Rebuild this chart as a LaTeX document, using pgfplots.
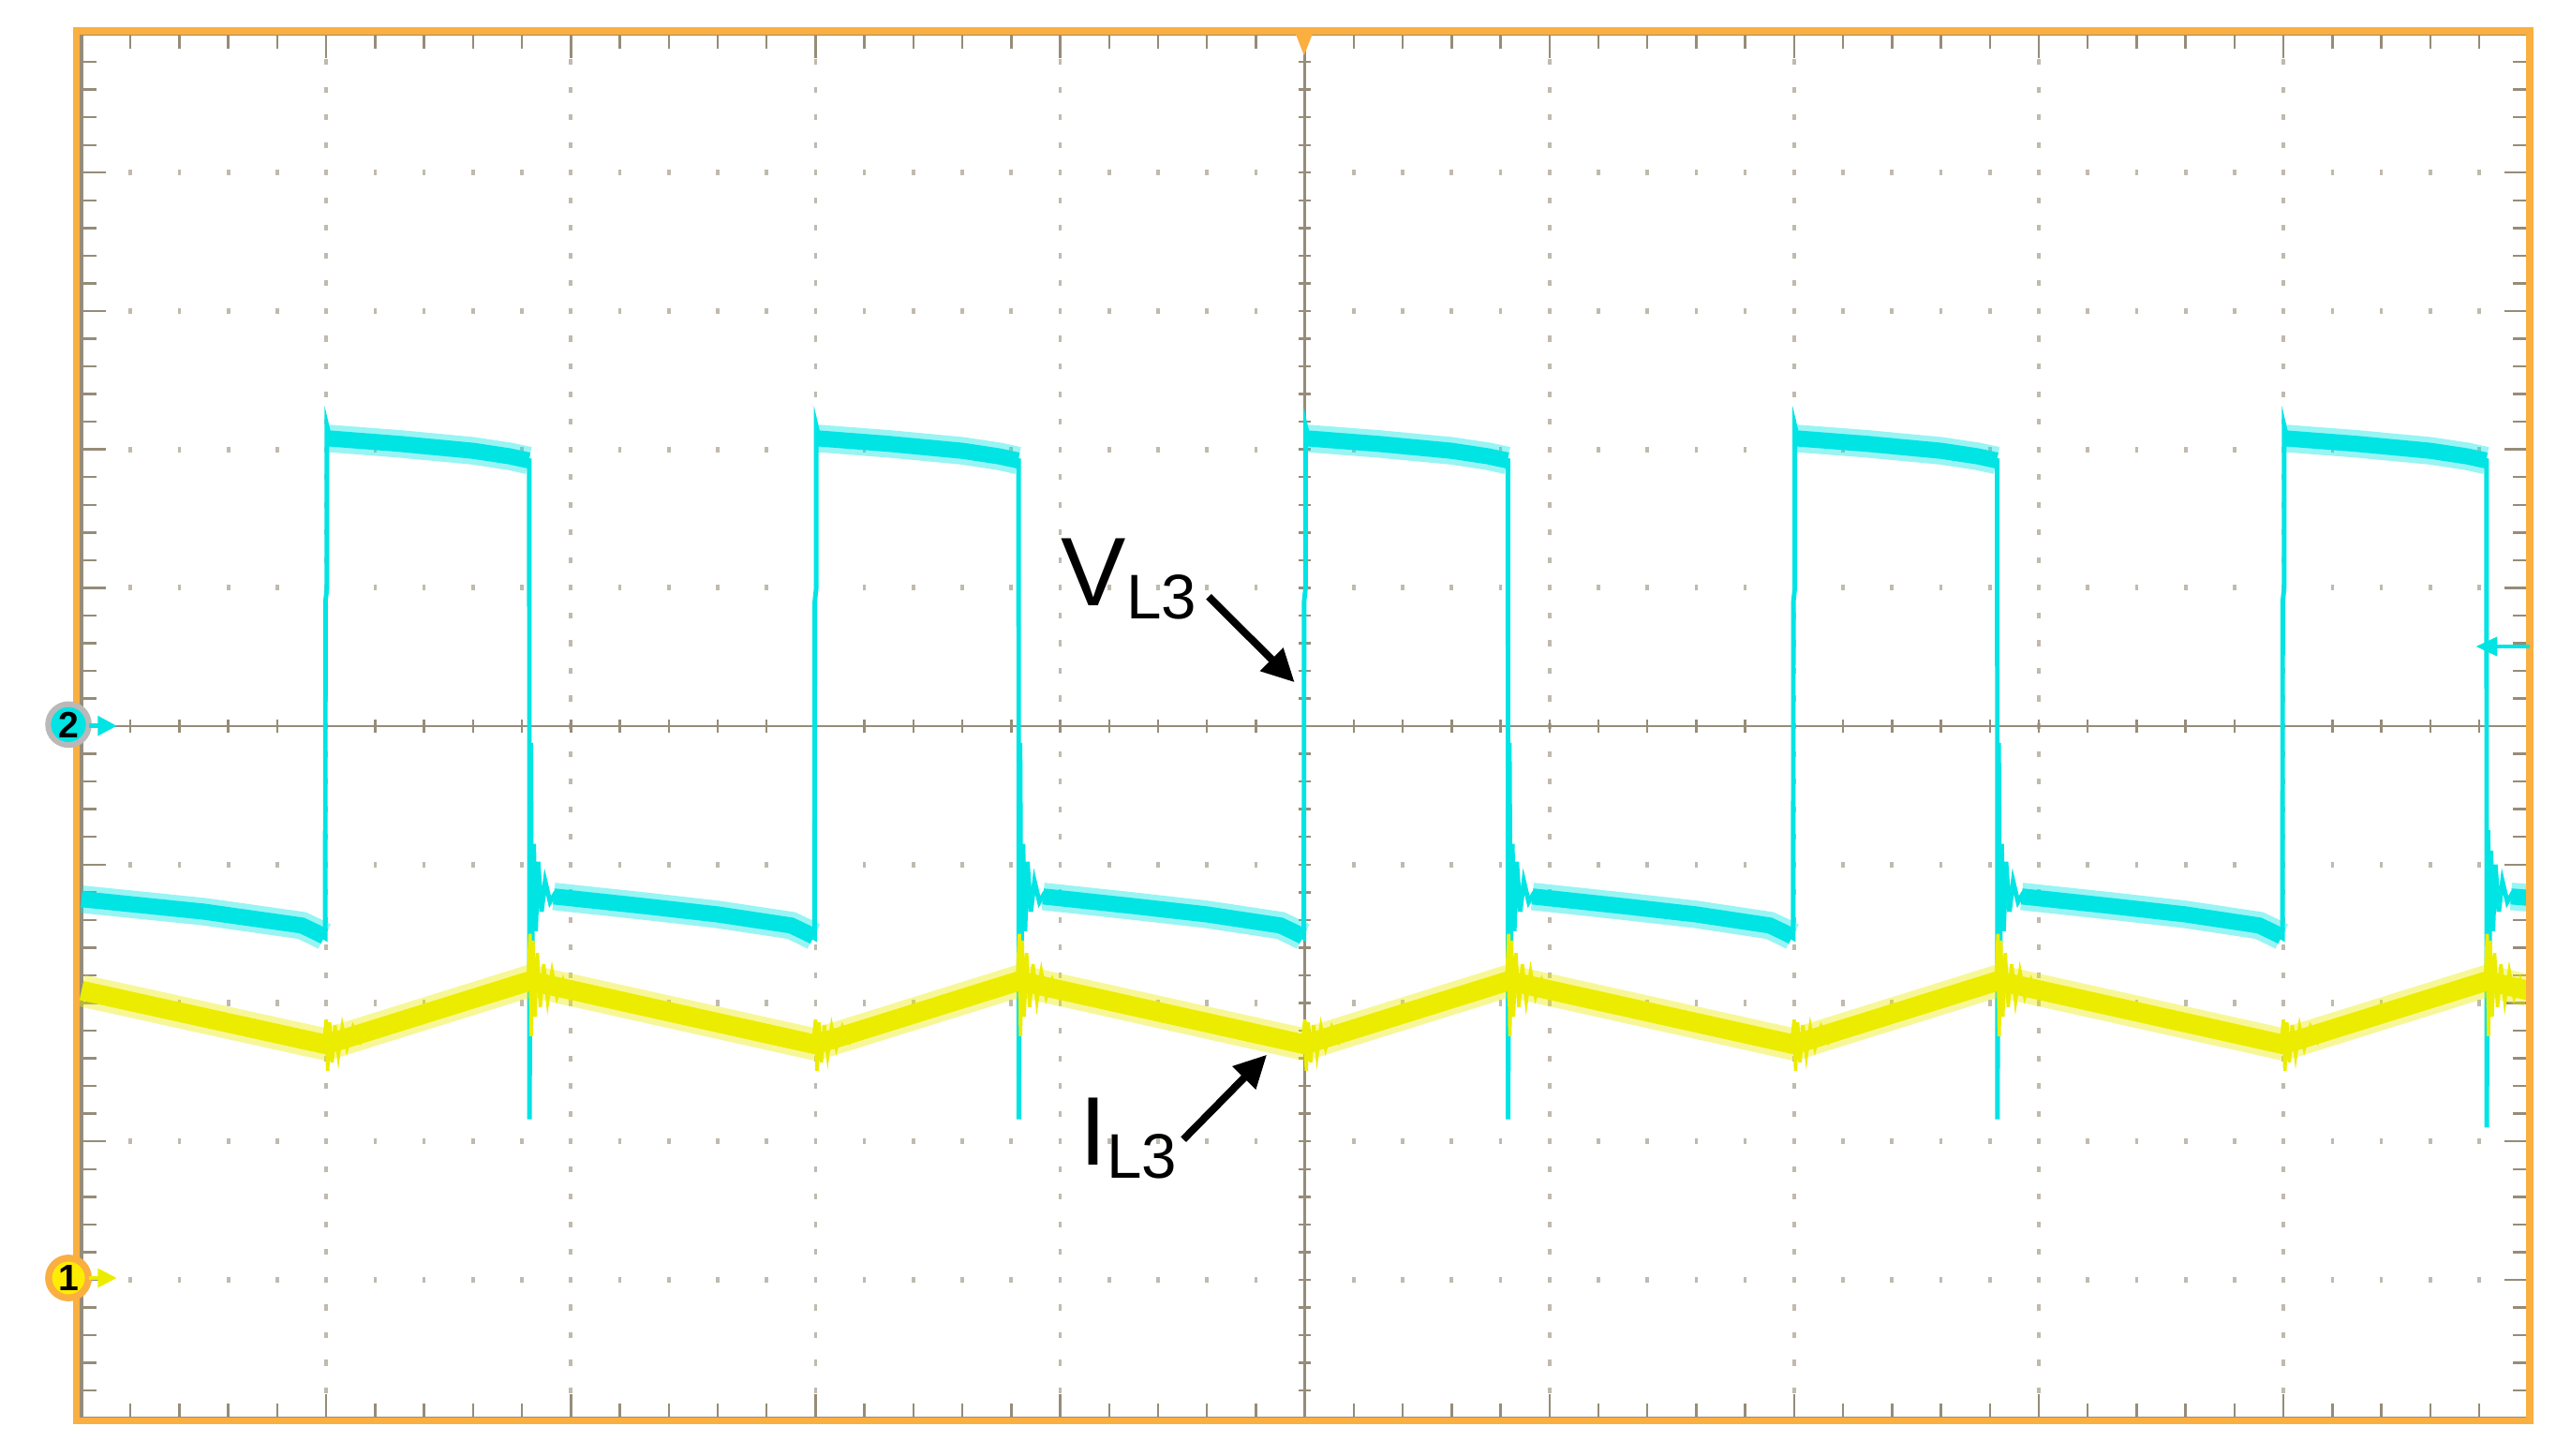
\documentclass[border=0pt]{standalone}
\usepackage{fontspec}
\setmainfont{Liberation Sans}
\usepackage{pgfplots}
\pgfplotsset{compat=1.18}
\usetikzlibrary{arrows.meta}

\definecolor{frameorange}{RGB}{250,175,64}
\definecolor{grat}{RGB}{150,140,120}
\definecolor{ch1}{RGB}{236,236,0}
\definecolor{ch2}{RGB}{0,228,228}

\begin{document}
\begin{tikzpicture}
% graticule, one unit = one division
\begin{scope}[shift={(0,4.2425cm)},x=1.5cm,y=0.8485cm,line width=0.4pt]
  \foreach \i in {1,2,3,4,6,7,8,9} {
    \foreach \j in {-24,...,24} {
      \fill[grat!60] ([xshift=-0.3pt,yshift=-0.5pt]\i,\j/5) rectangle ++(0.6pt,1pt);
    }
  }
  \foreach \j in {-4,-3,-2,-1,1,2,3,4} {
    \foreach \i in {1,...,49} {
      \fill[grat!60] ([xshift=-0.3pt,yshift=-0.5pt]\i/5,\j) rectangle ++(0.6pt,1pt);
    }
  }
  \draw[grat] (0,0) -- (10,0);
  \draw[grat] (5,-5) -- (5,5);
  \foreach \k in {1,...,49} {
    \draw[grat] ([yshift=-1.1pt]\k/5,0) -- ([yshift=1.1pt]\k/5,0);
    \draw[grat] ([xshift=-1.1pt]5,\k/5-5) -- ([xshift=1.1pt]5,\k/5-5);
    \pgfmathsetmacro\L{mod(\k,5)==0 ? 4.2 : 2.6}
    \draw[grat] (\k/5,5) -- ++(0,-\L pt);
    \draw[grat] (\k/5,-5) -- ++(0,\L pt);
    \draw[grat] (0,\k/5-5) -- ++(\L pt,0);
    \draw[grat] (10,\k/5-5) -- ++(-\L pt,0);
  }
  \draw[grat,line width=0.6pt] (0,-5) rectangle (10,5);
\end{scope}

\begin{axis}[
  at={(0,0)}, anchor=south west,
  scale only axis, width=15cm, height=8.485cm,
  xmin=0, xmax=10, ymin=-5, ymax=5,
  hide axis, clip=false,
  unbounded coords=jump,
]
% channel 2 (V_L3): noise band
\addplot[ch2, line width=4.8pt, opacity=0.4, line cap=butt] coordinates {
  (0,-1.25)(0.5,-1.34)(0.9,-1.44)(0.96,-1.49)(0.993,-1.52)(1,nan)
  (1.006,2.08)(1.3,2.04)(1.6,1.99)(1.75,1.95)(1.828,1.92)(1.83,nan)
  (1.93,-1.23)(2.3,-1.3)(2.6,-1.36)(2.9,-1.44)(2.96,-1.49)(2.993,-1.52)(3,nan)
  (3.006,2.08)(3.3,2.04)(3.6,1.99)(3.75,1.95)(3.828,1.92)(3.83,nan)
  (3.93,-1.23)(4.3,-1.3)(4.6,-1.36)(4.9,-1.44)(4.96,-1.49)(4.993,-1.52)(5,nan)
  (5.006,2.08)(5.3,2.04)(5.6,1.99)(5.75,1.95)(5.828,1.92)(5.83,nan)
  (5.93,-1.23)(6.3,-1.3)(6.6,-1.36)(6.9,-1.44)(6.96,-1.49)(6.993,-1.52)(7,nan)
  (7.006,2.08)(7.3,2.04)(7.6,1.99)(7.75,1.95)(7.828,1.92)(7.83,nan)
  (7.93,-1.23)(8.3,-1.3)(8.6,-1.36)(8.9,-1.44)(8.96,-1.49)(8.993,-1.52)(9,nan)
  (9.006,2.08)(9.3,2.04)(9.6,1.99)(9.75,1.95)(9.828,1.92)(9.83,nan)
  (9.93,-1.23)(10,-1.24)
};
\addplot[ch2, line width=2.8pt, line cap=butt] coordinates {
  (0,-1.25)(0.5,-1.34)(0.9,-1.44)(0.96,-1.49)(0.993,-1.52)(1,nan)
  (1.006,2.08)(1.3,2.04)(1.6,1.99)(1.75,1.95)(1.828,1.92)(1.83,nan)
  (1.93,-1.23)(2.3,-1.3)(2.6,-1.36)(2.9,-1.44)(2.96,-1.49)(2.993,-1.52)(3,nan)
  (3.006,2.08)(3.3,2.04)(3.6,1.99)(3.75,1.95)(3.828,1.92)(3.83,nan)
  (3.93,-1.23)(4.3,-1.3)(4.6,-1.36)(4.9,-1.44)(4.96,-1.49)(4.993,-1.52)(5,nan)
  (5.006,2.08)(5.3,2.04)(5.6,1.99)(5.75,1.95)(5.828,1.92)(5.83,nan)
  (5.93,-1.23)(6.3,-1.3)(6.6,-1.36)(6.9,-1.44)(6.96,-1.49)(6.993,-1.52)(7,nan)
  (7.006,2.08)(7.3,2.04)(7.6,1.99)(7.75,1.95)(7.828,1.92)(7.83,nan)
  (7.93,-1.23)(8.3,-1.3)(8.6,-1.36)(8.9,-1.44)(8.96,-1.49)(8.993,-1.52)(9,nan)
  (9.006,2.08)(9.3,2.04)(9.6,1.99)(9.75,1.95)(9.828,1.92)(9.83,nan)
  (9.93,-1.23)(10,-1.24)
};
% channel 2: edges and ringing
\addplot[ch2, line width=0.8pt] coordinates {
  (0,-1.25)(0.5,-1.34)(0.9,-1.44)(0.96,-1.49)(0.996,-1.53)
  (0.997,0.9)(1.003,1.0)(1.003,2.17)(1.015,2.08)(1.3,2.04)(1.6,1.99)(1.75,1.95)(1.83,1.92)
  (1.831,-2.84)(1.836,-0.12)(1.841,-1.72)(1.848,-0.85)(1.856,-1.48)(1.866,-0.98)(1.88,-1.34)(1.895,-1.12)(1.915,-1.27)(1.935,-1.21)
  (2.3,-1.3)(2.6,-1.36)(2.9,-1.44)(2.96,-1.49)(2.996,-1.53)
  (2.997,0.9)(3.003,1.0)(3.003,2.17)(3.015,2.08)(3.3,2.04)(3.6,1.99)(3.75,1.95)(3.83,1.92)
  (3.831,-2.84)(3.836,-0.12)(3.841,-1.72)(3.848,-0.85)(3.856,-1.48)(3.866,-0.98)(3.88,-1.34)(3.895,-1.12)(3.915,-1.27)(3.935,-1.21)
  (4.3,-1.3)(4.6,-1.36)(4.9,-1.44)(4.96,-1.49)(4.996,-1.53)
  (4.997,0.9)(5.003,1.0)(5.003,2.17)(5.015,2.08)(5.3,2.04)(5.6,1.99)(5.75,1.95)(5.83,1.92)
  (5.831,-2.84)(5.836,-0.12)(5.841,-1.72)(5.848,-0.85)(5.856,-1.48)(5.866,-0.98)(5.88,-1.34)(5.895,-1.12)(5.915,-1.27)(5.935,-1.21)
  (6.3,-1.3)(6.6,-1.36)(6.9,-1.44)(6.96,-1.49)(6.996,-1.53)
  (6.997,0.9)(7.003,1.0)(7.003,2.17)(7.015,2.08)(7.3,2.04)(7.6,1.99)(7.75,1.95)(7.83,1.92)
  (7.831,-2.84)(7.836,-0.12)(7.841,-1.72)(7.848,-0.85)(7.856,-1.48)(7.866,-0.98)(7.88,-1.34)(7.895,-1.12)(7.915,-1.27)(7.935,-1.21)
  (8.3,-1.3)(8.6,-1.36)(8.9,-1.44)(8.96,-1.49)(8.996,-1.53)
  (8.997,0.9)(9.003,1.0)(9.003,2.17)(9.015,2.08)(9.3,2.04)(9.6,1.99)(9.75,1.95)(9.83,1.92)
  (9.831,-2.9)(9.836,-0.75)(9.841,-1.72)(9.848,-0.9)(9.856,-1.48)(9.866,-1.0)(9.88,-1.34)(9.895,-1.12)(9.915,-1.27)(9.935,-1.21)(10,-1.24)
};
% channel 1 (I_L3): triangle band
\addplot[ch1, line width=5.6pt, opacity=0.4, line join=round] coordinates {
  (0,-1.91)(1,-2.30)(1.833,-1.84)(3,-2.30)(3.833,-1.84)(5,-2.30)
  (5.833,-1.84)(7,-2.30)(7.833,-1.84)(9,-2.30)(9.833,-1.84)(10,-1.91)
};
\addplot[ch1, line width=3.4pt, line join=round] coordinates {
  (0,-1.91)(1,-2.30)(1.833,-1.84)(3,-2.30)(3.833,-1.84)(5,-2.30)
  (5.833,-1.84)(7,-2.30)(7.833,-1.84)(9,-2.30)(9.833,-1.84)(10,-1.91)
};
% channel 1: ringing at the switching edges
\addplot[ch1, line width=0.6pt] coordinates {
  (0.99,-2.29)(1,-2.12)(1.006,-2.49)(1.014,-2.14)(1.024,-2.43)(1.036,-2.16)(1.05,-2.38)(1.066,-2.17)(1.085,-2.33)(1.11,-2.17)(1.14,-2.28)(1.17,-2.16)(1.2,nan)
  (1.825,-1.84)(1.833,-1.5)(1.838,-2.24)(1.845,-1.55)(1.853,-2.1)(1.863,-1.64)(1.875,-2.03)(1.889,-1.72)(1.905,-1.99)(1.923,-1.77)(1.943,-1.96)(1.968,-1.83)(1.998,-1.96)(2.033,-1.88)(2.1,nan)
  (2.99,-2.29)(3,-2.12)(3.006,-2.49)(3.014,-2.14)(3.024,-2.43)(3.036,-2.16)(3.05,-2.38)(3.066,-2.17)(3.085,-2.33)(3.11,-2.17)(3.14,-2.28)(3.17,-2.16)(3.2,nan)
  (3.825,-1.84)(3.833,-1.5)(3.838,-2.24)(3.845,-1.55)(3.853,-2.1)(3.863,-1.64)(3.875,-2.03)(3.889,-1.72)(3.905,-1.99)(3.923,-1.77)(3.943,-1.96)(3.968,-1.83)(3.998,-1.96)(4.033,-1.88)(4.1,nan)
  (4.99,-2.29)(5,-2.12)(5.006,-2.49)(5.014,-2.14)(5.024,-2.43)(5.036,-2.16)(5.05,-2.38)(5.066,-2.17)(5.085,-2.33)(5.11,-2.17)(5.14,-2.28)(5.17,-2.16)(5.2,nan)
  (5.825,-1.84)(5.833,-1.5)(5.838,-2.24)(5.845,-1.55)(5.853,-2.1)(5.863,-1.64)(5.875,-2.03)(5.889,-1.72)(5.905,-1.99)(5.923,-1.77)(5.943,-1.96)(5.968,-1.83)(5.998,-1.96)(6.033,-1.88)(6.1,nan)
  (6.99,-2.29)(7,-2.12)(7.006,-2.49)(7.014,-2.14)(7.024,-2.43)(7.036,-2.16)(7.05,-2.38)(7.066,-2.17)(7.085,-2.33)(7.11,-2.17)(7.14,-2.28)(7.17,-2.16)(7.2,nan)
  (7.825,-1.84)(7.833,-1.5)(7.838,-2.24)(7.845,-1.55)(7.853,-2.1)(7.863,-1.64)(7.875,-2.03)(7.889,-1.72)(7.905,-1.99)(7.923,-1.77)(7.943,-1.96)(7.968,-1.83)(7.998,-1.96)(8.033,-1.88)(8.1,nan)
  (8.99,-2.29)(9,-2.12)(9.006,-2.49)(9.014,-2.14)(9.024,-2.43)(9.036,-2.16)(9.05,-2.38)(9.066,-2.17)(9.085,-2.33)(9.11,-2.17)(9.14,-2.28)(9.17,-2.16)(9.2,nan)
  (9.825,-1.84)(9.833,-1.5)(9.838,-2.24)(9.845,-1.55)(9.853,-2.1)(9.863,-1.64)(9.875,-2.03)(9.889,-1.72)(9.905,-1.99)(9.923,-1.77)(9.943,-1.96)(9.968,-1.83)(9.998,-1.96)(10,-1.93)
};
\end{axis}

% frame, channel markers and labels, in pixels of the screenshot
\begin{scope}[shift={(-0.5cm,8.695cm)},x=0.01cm,y=-0.01cm]
  \draw[frameorange,line width=1.2pt] (46.8,18.9) rectangle (1552,871.6);
  % channel 2 marker
  \filldraw[fill=ch2,draw=gray!55,line width=1pt] (42,444.5) circle (0.125cm);
  \node[font=\fontsize{6.4}{7}\selectfont\bfseries] at (42,444.5) {2};
  \draw[ch2,line width=0.8pt] (54.5,445.3) -- (62,445.3);
  \fill[ch2] (60,439) -- (71.5,445.3) -- (60,451.5) -- cycle;
  % channel 1 marker
  \filldraw[fill=yellow!95!orange,draw=frameorange,line width=1.2pt] (42,784) circle (0.122cm);
  \node[font=\fontsize{6.4}{7}\selectfont\bfseries] at (42,784) {1};
  \draw[ch1,line width=0.8pt] (54.5,784) -- (62,784);
  \fill[ch1] (60,778) -- (71.5,784) -- (60,790) -- cycle;
  % trigger position and level
  \fill[frameorange] (794.5,20) -- (805.5,20) -- (800,34) -- cycle;
  \draw[ch2,line width=0.6pt] (1530,396.6) -- (1552,396.6);
  \fill[ch2] (1519,396.6) -- (1532,390.5) -- (1532,402.7) -- cycle;
  % annotations
  \node[anchor=base west,inner sep=0pt,font=\fontsize{17}{20}\selectfont] at (650.4,371.7)
    {V\raisebox{-0.081cm}{\fontsize{11}{13}\selectfont L3}};
  \node[anchor=base west,inner sep=0pt,font=\fontsize{17}{20}\selectfont] at (661.7,714.6)
    {I\raisebox{-0.084cm}{\fontsize{11}{13}\selectfont L3}};
  \draw[line width=1.3pt,-{Triangle[length=0.2cm,width=0.19cm]}] (741.5,366) -- (794.2,418.6);
  \draw[line width=1.3pt,-{Triangle[length=0.2cm,width=0.19cm]}] (726,699) -- (777.2,647);
\end{scope}

\pgfresetboundingbox
\path[shift={(-0.5cm,8.695cm)},x=0.01cm,y=-0.01cm] (0,0) rectangle (1568,893);
\end{tikzpicture}
\end{document}
